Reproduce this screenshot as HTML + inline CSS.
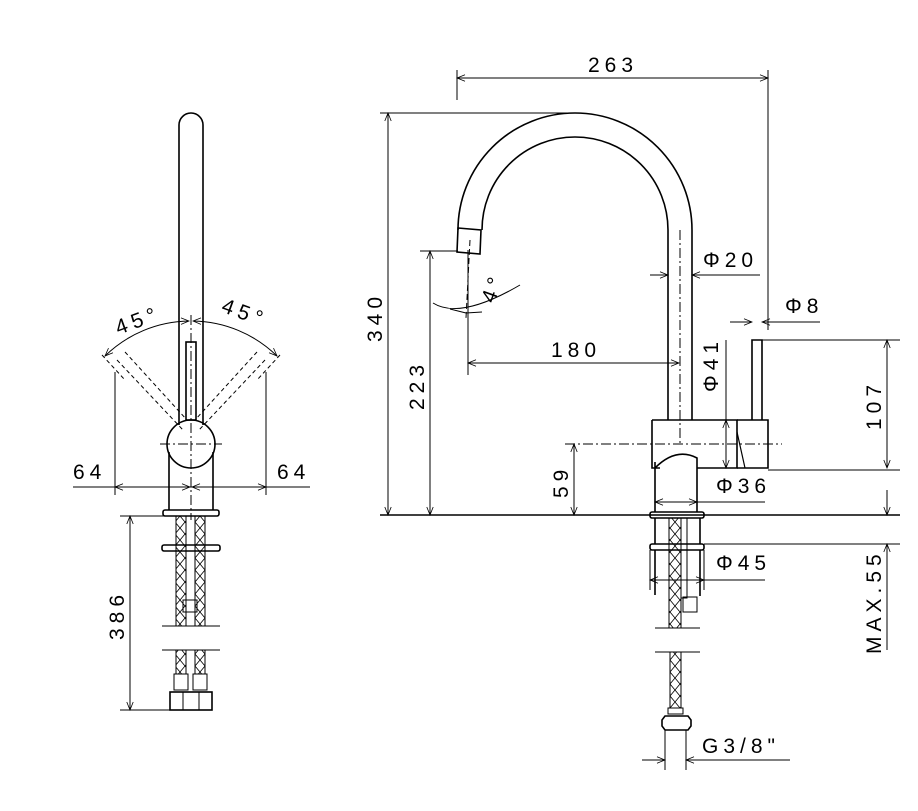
<!DOCTYPE html>
<html><head><meta charset="utf-8"><style>
html,body{margin:0;padding:0;background:#fff}
svg{display:block}
text{font-family:"Liberation Sans",sans-serif;font-size:21px;fill:#000;letter-spacing:5px}
</style></head><body>
<svg width="918" height="811" viewBox="0 0 918 811" xmlns="http://www.w3.org/2000/svg">
<defs>
<marker id="a" viewBox="0 0 10 10" refX="10" refY="5" markerWidth="10" markerHeight="8" orient="auto-start-reverse" markerUnits="userSpaceOnUse"><path d="M0,1 L10,5 L0,9" fill="none" stroke="#000" stroke-width="1"/></marker>
<pattern id="x" width="10" height="12" patternUnits="userSpaceOnUse"><path d="M0,0 L10,12 M10,0 L0,12" stroke="#000" stroke-width="0.8"/></pattern>
</defs>
<g fill="none" stroke="#000" stroke-width="1.6">
<path d="M179,425 V125 A12,12 0 0 1 203,125 V425"/>
<rect x="186" y="342" width="10" height="78"/>
<circle cx="191" cy="444" r="24"/>
<path d="M169,452 V510 M213,452 V510"/>
<rect x="163" y="510" width="56" height="6" rx="2"/>
<rect x="162" y="545" width="58" height="6" rx="2"/>
<rect x="176" y="516" width="10" height="110" fill="url(#x)" stroke-width="1"/>
<rect x="195" y="516" width="10" height="110" fill="url(#x)" stroke-width="1"/>
<rect x="183" y="600" width="14" height="12" stroke-width="1"/>
<rect x="176" y="650" width="10" height="24" fill="url(#x)" stroke-width="1"/>
<rect x="195" y="650" width="10" height="24" fill="url(#x)" stroke-width="1"/>
<rect x="174" y="674" width="14" height="16" stroke-width="1"/>
<rect x="193" y="674" width="14" height="16" stroke-width="1"/>
<rect x="170" y="692" width="42" height="18"/>
<path d="M183,692 V710 M199,692 V710" stroke-width="1"/>
</g>
<g fill="none" stroke="#000" stroke-width="1">
<path d="M162,626 H220 M162,650 H220"/>
<path d="M191,315 V520" stroke-dasharray="10,3,2,3"/>
<path d="M160,444 H222" stroke-dasharray="10,3,2,3"/>
<path d="M117,360 L183,430 M125,352 L187,420 M265,360 L199,430 M257,352 L195,420 M102,355 L125,380 M280,355 L257,380" stroke-dasharray="4,3"/>
<path d="M105,356 A123,123 0 0 1 189,321" marker-start="url(#a)" marker-end="url(#a)"/>
<path d="M193,321 A123,123 0 0 1 277,356" marker-start="url(#a)" marker-end="url(#a)"/>
<path d="M115,372 V495 M266,372 V495"/>
<path d="M73,487 H310"/>
<path d="M115,487 H190" marker-start="url(#a)" marker-end="url(#a)"/>
<path d="M192,487 H266" marker-start="url(#a)" marker-end="url(#a)"/>
<path d="M120,516 H165 M120,710 H172"/>
<path d="M130,516 V710" marker-start="url(#a)" marker-end="url(#a)"/>
</g>
<text x="114" y="330" transform="rotate(-20 130 320)">45°</text>
<text x="222" y="318" transform="rotate(20 240 310)">45°</text>
<text x="73" y="479">64</text>
<text x="277" y="479">64</text>
<text x="0" y="0" transform="translate(124,640) rotate(-90)">386</text>

<g fill="none" stroke="#000" stroke-width="1.6">
<path d="M668,420 V230 A93,93 0 0 0 482,230 M692,420 V230 A117,117 0 0 0 458,230"/>
<path d="M458,228 L481,230 L480,254 L457,252 Z"/>
<path d="M652,420 H737 V468 H697 M652,420 V468 H660"/>
<path d="M655,468 Q676,447 697,458 V512 M655,462 V512"/>
<path d="M737,420 H768 V468 H737 M752,420 V340 H762 V420"/>
<path d="M737,432 L745,468" stroke-width="1.2"/>
<rect x="650" y="512" width="54" height="6" rx="2"/>
<rect x="650" y="544" width="54" height="6" rx="2"/>
<path d="M655,518 V544 M700,518 V544 M655,550 V595 M700,550 V596"/>
<rect x="669" y="518" width="12" height="110" fill="url(#x)" stroke-width="1"/>
<rect x="681" y="518" width="6" height="80" stroke-width="1"/>
<rect x="683" y="597" width="14" height="15" stroke-width="1"/>
<rect x="670" y="652" width="11" height="56" fill="url(#x)" stroke-width="1"/>
<rect x="668" y="708" width="15" height="6" stroke-width="1"/>
<path d="M665,716 H688 L691,720 V726 L688,730 H665 L662,726 V720 Z"/>
</g>
<g fill="none" stroke="#000" stroke-width="1">
<path d="M655,628 H700 M655,652 H700"/>
<path d="M680,230 V445" stroke-dasharray="10,3,2,3"/>
<path d="M565,444 H782" stroke-dasharray="10,3,2,3"/>
<path d="M470,240 L466,318" stroke-dasharray="6,3"/>
<path d="M457,70 V100 M768,70 V330"/>
<path d="M457,78 H768" marker-start="url(#a)" marker-end="url(#a)"/>
<path d="M380,113 H575"/>
<path d="M388,113 V515" marker-start="url(#a)" marker-end="url(#a)"/>
<path d="M420,251 H458"/>
<path d="M430,251 V515" marker-start="url(#a)" marker-end="url(#a)"/>
<path d="M380,515 H900" stroke-width="1.4"/>
<path d="M433,303 Q460,320 520,285"/>
<path d="M450,309 L466,313 M482,312 L466,313"/>
<path d="M468,250 V375"/>
<path d="M468,363 H679" marker-start="url(#a)" marker-end="url(#a)"/>
<path d="M650,275 H668" marker-end="url(#a)"/>
<path d="M760,275 H692" marker-end="url(#a)"/>
<path d="M730,322 H752" marker-end="url(#a)"/>
<path d="M820,322 H762" marker-end="url(#a)"/>
<path d="M726,340 V468"/>
<path d="M726,420 V468" marker-start="url(#a)" marker-end="url(#a)"/>
<path d="M768,470 H900 M762,340 H900"/>
<path d="M887,340 V468" marker-start="url(#a)" marker-end="url(#a)"/>
<path d="M574,444 V515" marker-start="url(#a)" marker-end="url(#a)"/>
<path d="M655,502 H697" marker-start="url(#a)" marker-end="url(#a)"/>
<path d="M697,502 H765"/>
<path d="M650,550 V590 M704,550 V590"/>
<path d="M650,580 H704" marker-start="url(#a)" marker-end="url(#a)"/>
<path d="M704,580 H765"/>
<path d="M704,544 H900"/>
<path d="M887,490 V515" marker-end="url(#a)"/>
<path d="M887,650 V544" marker-end="url(#a)"/>
<path d="M665,730 V770 M686,730 V770"/>
<path d="M642,760 H665" marker-end="url(#a)"/>
<path d="M790,760 H686" marker-end="url(#a)"/>
</g>
<text x="588" y="72">263</text>
<text x="0" y="0" transform="translate(382,342) rotate(-90)">340</text>
<text x="0" y="0" transform="translate(424,410) rotate(-90)">223</text>
<text x="480" y="300" transform="rotate(-70 490 292)">4°</text>
<text x="551" y="357">180</text>
<text x="703" y="267">Φ20</text>
<text x="785" y="313">Φ8</text>
<text x="0" y="0" transform="translate(718,392) rotate(-90)">Φ41</text>
<text x="0" y="0" transform="translate(881,430) rotate(-90)">107</text>
<text x="0" y="0" transform="translate(568,498) rotate(-90)">59</text>
<text x="716" y="493">Φ36</text>
<text x="716" y="570">Φ45</text>
<text x="0" y="0" transform="translate(881,654) rotate(-90)">MAX.55</text>
<text x="702" y="753">G3/8"</text>
</svg>
</body></html>
